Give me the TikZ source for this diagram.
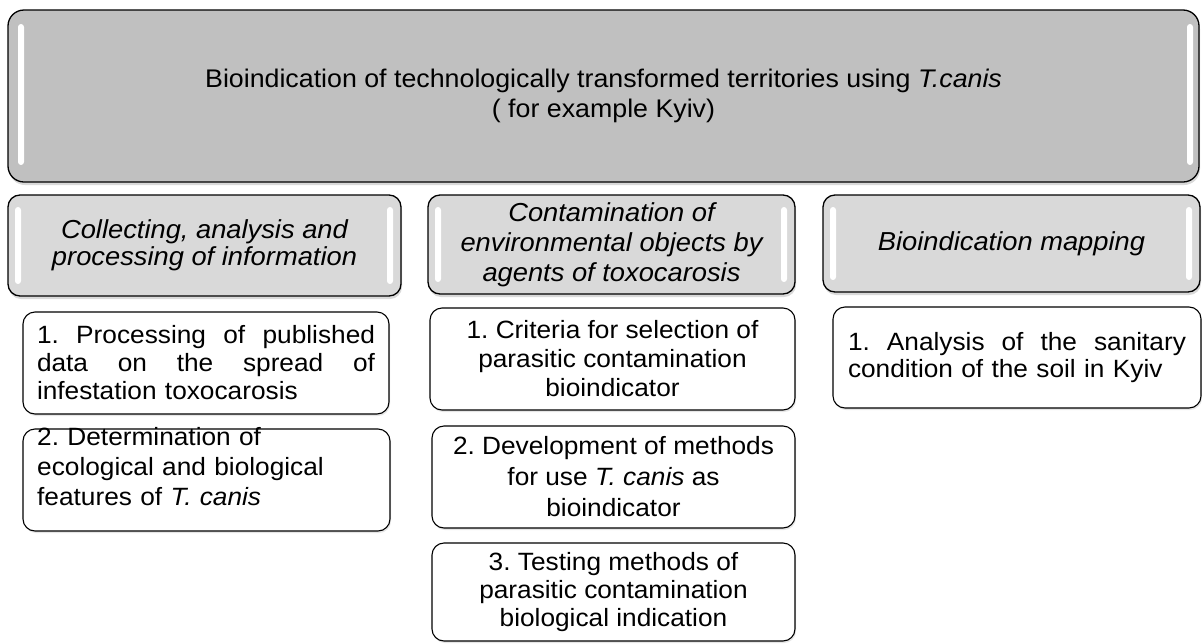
\documentclass[tikz,border=0pt]{standalone}
\usepackage{fontspec}
\setmainfont{Liberation Sans}[FakeStretch=1.05]
\usepackage{tikz}
\usetikzlibrary{shadows}
\definecolor{titlegray}{HTML}{C0C0C0}
\definecolor{headgray}{HTML}{D9D9D9}
\frenchspacing

\begin{document}
\begin{tikzpicture}[x=1pt,y=-1pt,
  titlebox/.style={draw=black, line width=1.3pt, fill=titlegray, rounded corners=16pt,
    anchor=north west, inner sep=0pt, outer sep=0pt, align=center,
    font=\fontsize{25.5}{30}\selectfont,
    drop shadow={shadow xshift=1pt, shadow yshift=-3pt, opacity=0.3}},
  headbox/.style={draw=black, line width=1.3pt, fill=headgray, rounded corners=12pt,
    anchor=north west, inner sep=0pt, outer sep=0pt, align=center,
    drop shadow={shadow xshift=1pt, shadow yshift=-3pt, opacity=0.3}},
  itembox/.style={draw=black, line width=1.1pt, fill=white, rounded corners=12pt,
    anchor=north west, inner ysep=0pt, outer sep=0pt,
    drop shadow={shadow xshift=1pt, shadow yshift=-2pt, opacity=0.2}},
  glint/.style={fill=white, rounded corners=3pt}
]
\useasboundingbox (0,0) rectangle (1202,643);
% draws title
\node[titlebox, minimum width=1191pt, minimum height=172pt] (title) at (8,10)
  {Bioindication of technologically transformed territories using \textit{T.canis}\\( for example Kyiv)};
\fill[glint] ([xshift=10pt,yshift=-14pt]title.north west) rectangle ([xshift=16pt,yshift=17pt]title.south west);
\fill[glint] ([xshift=-12pt,yshift=-14pt]title.north east) rectangle ([xshift=-6pt,yshift=17pt]title.south east);
% draws headings
\node[headbox, minimum width=393pt, minimum height=101pt, font=\fontsize{26}{27}\selectfont\itshape] (collect) at (8,195)
  {Collecting, analysis and\\processing of information};
\node[headbox, minimum width=367pt, minimum height=99pt, font=\fontsize{26}{30}\selectfont\itshape] (contam) at (428,195)
  {Contamination of\\environmental objects by\\agents of toxocarosis};
\node[headbox, minimum width=377pt, minimum height=97pt, font=\fontsize{26}{30}\selectfont\itshape] (mapping) at (823,195)
  {Bioindication mapping};
\foreach \h in {collect,contam,mapping}{
  \fill[glint] ([xshift=7pt,yshift=-12pt]\h.north west) rectangle ([xshift=13pt,yshift=12pt]\h.south west);
  \fill[glint] ([xshift=-14pt,yshift=-12pt]\h.north east) rectangle ([xshift=-8pt,yshift=12pt]\h.south east);
}
% draws items of first column
\node[itembox, inner xsep=14pt, text width=338pt, minimum height=102pt, align=left,
  font=\fontsize{25}{28}\selectfont] (process) at (23,312)
  {\makebox[338pt]{1.\hfill Processing\hfill of\hfill published}\\\makebox[338pt]{data\hfill on\hfill the\hfill spread\hfill of}\\infestation toxocarosis};
\node[itembox, minimum width=367pt, minimum height=102pt] (features) at (23,429) {};
\node[anchor=north west, inner xsep=14pt, inner ysep=0pt, text width=338pt, align=left,
  font=\fontsize{25}{30}\selectfont] (featurestext) at (23,427)
  {2. Determination of\\ecological and biological\\features of \textit{T. canis}};
% draws items of second column
\node[itembox, minimum width=365pt, minimum height=102pt, align=center,
  font=\fontsize{25}{29}\selectfont] (criteria) at (430,308)
  {1. Criteria for selection of\\parasitic contamination\\bioindicator};
\node[itembox, minimum width=363pt, minimum height=102pt, align=center,
  font=\fontsize{25}{31}\selectfont] (methods) at (432,426)
  {2. Development of methods\\for use \textit{T. canis} as\\bioindicator};
\node[itembox, minimum width=363pt, minimum height=98pt, align=center,
  font=\fontsize{25}{28}\selectfont] (testing) at (432,543)
  {3. Testing methods of\\parasitic contamination\\biological indication};
% draws item of third column
\node[itembox, inner xsep=15pt, text width=338pt, minimum height=101pt, align=left,
  font=\fontsize{25}{27}\selectfont] (soil) at (833,307)
  {\makebox[338pt]{1.\hfill Analysis\hfill of\hfill the\hfill sanitary}\\condition of the soil in Kyiv};
\end{tikzpicture}
\end{document}
